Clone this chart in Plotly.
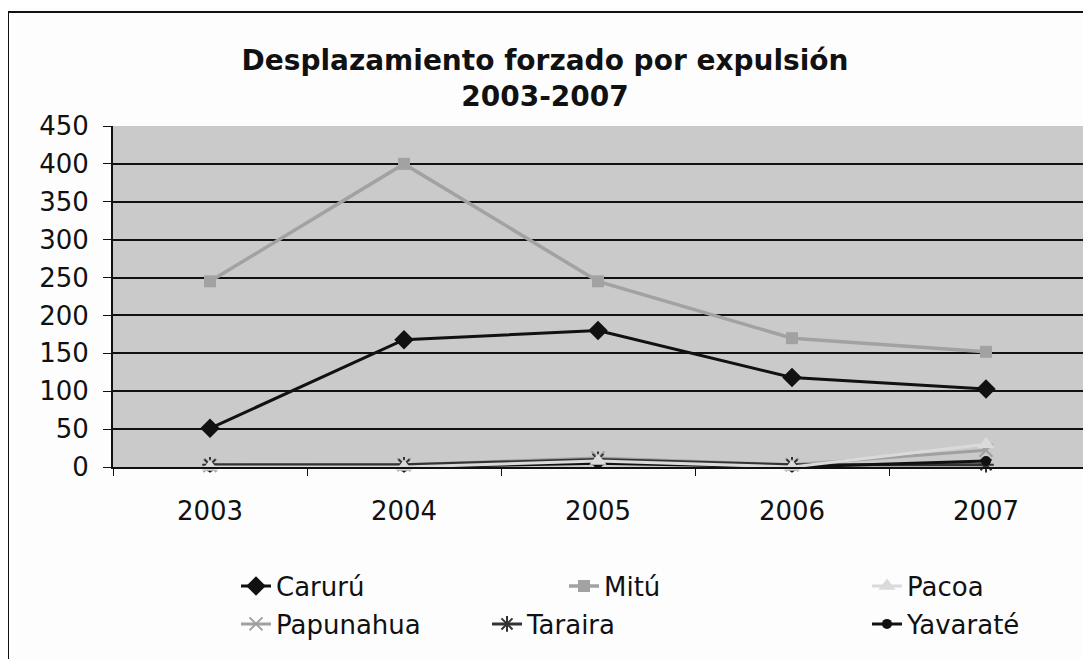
import plotly.graph_objects as go

years = ["2003", "2004", "2005", "2006", "2007"]
caruru = [51, 168, 180, 118, 103]
mitu = [245, 400, 245, 170, 152]
pacoa = [0, 0, 8, 0, 30]
papunahua = [2, 3, 12, 3, 22]
taraira = [3, 3, 10, 3, 3]
yavarate = [0, 0, 5, 0, 8]
y_ticks = [0, 50, 100, 150, 200, 250, 300, 350, 400, 450]

# page offset (body margin) of the rendered figure
O = 8
W, H = 1083, 651
# plot area in page pixels: x 113..1083, y 126..467
L, R, T, B = 113 - O, O + W - 1083, 126 - O, O + H - 467
pw, ph = W - L - R, H - T - B

series = [
    ("Papunahua", papunahua, "#a0a0a0", "x-thin-open", 13, "legend4"),
    ("Taraira", taraira, "#333333", "asterisk-open", 13, "legend5"),
    ("Yavaraté", yavarate, "#111111", "circle", 10, "legend6"),
    ("Pacoa", pacoa, "#dadada", "triangle-up", 15, "legend3"),
    ("Mitú", mitu, "#a2a2a2", "square", 12, "legend2"),
    ("Carurú", caruru, "#111111", "diamond", 15, "legend"),
]

fig = go.Figure()
for name, vals, col, sym, sz, leg in series:
    open_sym = sym.endswith("open")
    fig.add_trace(go.Scatter(
        x=years, y=vals, name=name, mode="lines+markers",
        line=dict(color=col, width=3.5 if name == "Mitú" else 3),
        marker=dict(symbol=sym, size=sz, color=col,
                    line=dict(color=col, width=2 if open_sym else 0)),
        legend=leg, cliponaxis=False,
    ))

def px_x(p):
    return (p - O - L) / pw

def px_y(p):
    return (O + H - B - p) / ph

font_leg = dict(family="DejaVu Sans", size=26, color="#111111")
legpos = {
    "legend": (236, 586), "legend2": (564, 586), "legend3": (867, 586),
    "legend4": (236, 624), "legend5": (487, 624), "legend6": (867, 624),
}
leg_layout = {}
for k, (lx, ly) in legpos.items():
    leg_layout[k] = dict(x=px_x(lx), y=px_y(ly), xanchor="left", yanchor="middle",
                         bgcolor="rgba(0,0,0,0)", font=font_leg, orientation="h",
                         itemwidth=30)

fig.update_layout(
    width=W, height=H,
    margin=dict(l=L, r=R, t=T, b=B),
    paper_bgcolor="#fdfdfd",
    plot_bgcolor="#cacaca",
    showlegend=True,
    title=dict(text="<b>Desplazamiento forzado por expulsión<br>2003-2007</b>",
               x=(545 - O) / W, xref="container", xanchor="center",
               y=1 - (70 - O) / H, yref="container", yanchor="middle",
               font=dict(family="DejaVu Sans", size=28, color="#111111")),
    xaxis=dict(type="category", range=[-0.5, 4.5], showgrid=False,
               showline=True, linecolor="#111111", linewidth=2,
               ticks="outside", tickson="boundaries", ticklen=7, tickcolor="#111111",
               tickfont=dict(family="DejaVu Sans", size=26, color="#111111"),
               ticklabelstandoff=20),
    yaxis=dict(range=[0, 450], tickvals=y_ticks, showgrid=True,
               gridcolor="#111111", gridwidth=2, zeroline=False,
               showline=True, linecolor="#111111", linewidth=2,
               ticks="outside", ticklen=8, tickcolor="#111111",
               tickfont=dict(family="DejaVu Sans", size=26, color="#111111"),
               ticklabelstandoff=9),
    shapes=[dict(type="rect", xref="paper", yref="paper",
                 x0=px_x(8), x1=px_x(1200), y0=px_y(800), y1=px_y(12),
                 line=dict(color="#111111", width=2), fillcolor="rgba(0,0,0,0)",
                 layer="below")],
    **leg_layout,
)

fig.write_html("out.html")
